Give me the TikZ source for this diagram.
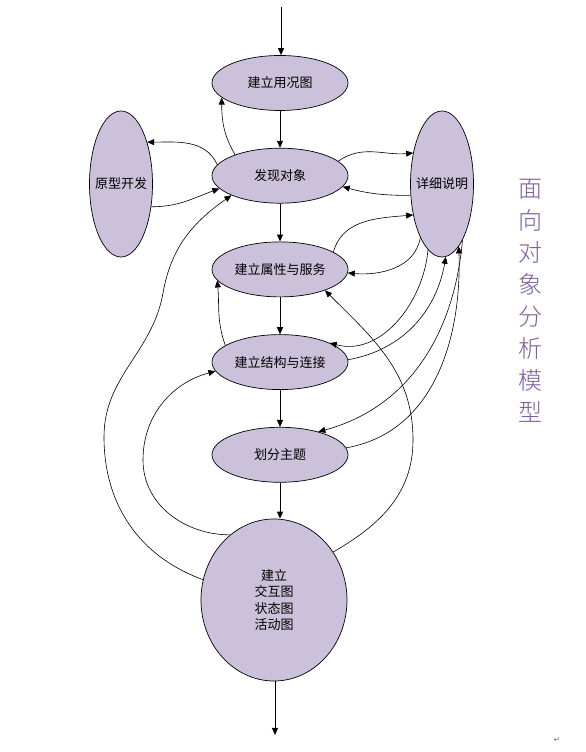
\documentclass[tikz,border=0pt]{standalone}
\usepackage{fontspec}
\setmainfont{Noto Sans CJK SC}
\newfontfamily\titlefont{Noto Sans CJK SC}[UprightFont={* Light}]
\newfontfamily\symbolfont{DejaVu Sans}
\usepackage{tikz}
\usetikzlibrary{arrows.meta,positioning,shapes.geometric}
\definecolor{lavender}{RGB}{204,193,218}
\definecolor{titlepurple}{RGB}{122,94,160}
\definecolor{markgray}{RGB}{120,120,120}
\tikzset{
  ovalbox/.style={ellipse, draw=black, line width=0.7pt, fill=lavender, inner sep=0pt,
    minimum width=136pt, minimum height=55pt, align=center, font=\fontsize{13}{16.5}\selectfont},
  sidebox/.style={ovalbox, minimum width=63pt, minimum height=146pt, inner xsep=-12pt},
  flow/.style={-{Triangle[length=7pt,width=6pt]}, line width=0.9pt},
  loopflow/.style={-{Triangle[length=7pt,width=6pt]}, line width=0.6pt}
}

\begin{document}
\begin{tikzpicture}[x=1pt,y=1pt,node distance=37pt]
\useasboundingbox (0,0) rectangle (586,752);
\node[ovalbox] (usecase) at (280,669) {建立用况图};
\node[ovalbox, below=of usecase] (findobj) {发现对象};
\node[ovalbox, below=38pt of findobj] (attr) {建立属性与服务};
\node[ovalbox, below=of attr] (struct) {建立结构与连接};
\node[ovalbox, below=of struct] (topic) {划分主题};
\node[ovalbox, minimum width=146pt, minimum height=162pt, below=36pt of topic, xshift=-6pt] (interact) {建立\\交互图\\状态图\\活动图};
\node[sidebox] (proto) at (121,568) {原型开发};
\node[sidebox] (detail) at (442,568) {详细说明};
\node[font=\titlefont\fontsize{24}{32}\selectfont, text=titlepurple, align=center] (title) at (530,451) {面\\向\\对\\象\\分\\析\\模\\型};
\node[font=\symbolfont\fontsize{8}{8}\selectfont, text=markgray] (mark) at (557,12) {↵};

\coordinate (start) at (281,745);
\coordinate (finish) at (275,17);
\coordinate (bendA) at (413,312);
\coordinate (bendB) at (143,292);
\coordinate (bendC) at (104,315);
\coordinate (bendD) at (163,459);

% main column
\draw[flow] (start) -- (start |- usecase.north);
\draw[flow] (usecase) -- (findobj);
\draw[flow] (findobj) -- (attr);
\draw[flow] (attr) -- (struct);
\draw[flow] (struct) -- (topic);
\draw[flow] (topic.south) -- (topic.south |- interact.north);
\draw[flow] (interact.south -| finish) -- (finish);

% loops round the column
\draw[loopflow] (findobj.155) to[out=120,in=-90] (usecase.194);
\draw[loopflow] (findobj.170) to[out=115,in=0] (proto.58);
\draw[loopflow] (proto.-37) to[out=0,in=200] (findobj.192);
\draw[loopflow] (findobj.14) to[out=35,in=185] (detail.133);
\draw[loopflow] (detail.200) to[out=180,in=-15] (findobj.-10);
\draw[loopflow] (attr.18) to[out=75,in=185] (detail.227);
\draw[loopflow] (detail.248) to[out=-100,in=-5] (attr.-3);
\draw[loopflow] (struct.163) to[out=110,in=-85] (attr.190);
\draw[loopflow] (detail.258) to[out=-95,in=-15] (struct.21);
\draw[loopflow] (struct.2) to[out=10,in=-100] (detail.273);
\draw[loopflow] (detail.290) to[out=-95,in=15] (topic.31);
\draw[loopflow] (topic.6) to[out=10,in=-88] (detail.285);
\draw[loopflow] (interact.39) to[out=30,in=-90] (bendA) to[out=90,in=-45] (attr.-25);
\draw[loopflow] (interact.124) to[out=180,in=-90] (bendB) to[out=90,in=195] (struct.188);
\draw[loopflow] (interact.164) to[out=160,in=-90] (bendC) to[out=90,in=-100] (bendD) to[out=80,in=215] (findobj.202);
\end{tikzpicture}
\end{document}
